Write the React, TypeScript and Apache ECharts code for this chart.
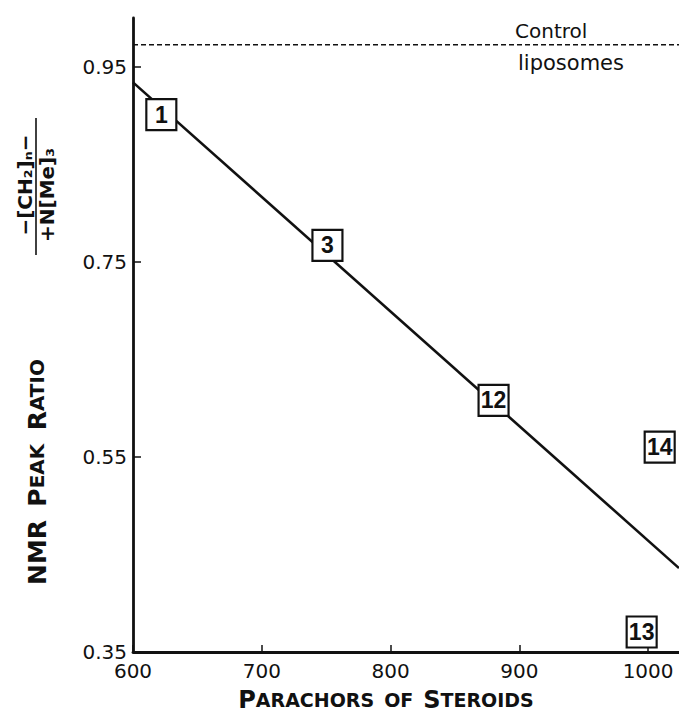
import React, { useEffect, useRef } from "react";
import * as echarts from "echarts";

// ---- data ----
const xRange = [600, 1024];
const yRange = [0.35, 1.0];
const fitLine = [
  [600, 0.934],
  [1024, 0.436],
];
const controlLevel = 0.9726;
const steroidIds = ["1", "3", "12", "14", "13"];
const steroidParachor = [622, 751, 880, 1009, 995];
const steroidRatio = [0.901, 0.767, 0.608, 0.56, 0.3705];

const INK = "#111111";
const NUM_FONT = "DejaVu Sans";

export default function App() {
  const ref = useRef<HTMLDivElement>(null);

  useEffect(() => {
    if (!ref.current) return;
    const chart = echarts.init(ref.current, undefined, { renderer: "svg" });

    const titleRich = {
      b: { fontFamily: NUM_FONT, fontWeight: "bold", fontSize: 24, fill: INK },
      s: { fontFamily: NUM_FONT, fontWeight: "bold", fontSize: 19, fill: INK },
    };
    const yTitleRich = {
      b: { fontFamily: NUM_FONT, fontWeight: "bold", fontSize: 25, fill: INK },
      s: { fontFamily: NUM_FONT, fontWeight: "bold", fontSize: 20, fill: INK },
    };

    const option: any = {
      animation: false,
      backgroundColor: "#ffffff",
      grid: { left: 133, top: 18, right: 0, bottom: 66 },
      xAxis: {
        type: "value",
        min: xRange[0],
        max: xRange[1],
        interval: 100,
        splitLine: { show: false },
        axisLine: { show: true, lineStyle: { color: INK, width: 2.8 } },
        axisTick: { show: true, inside: true, length: 7, lineStyle: { color: INK, width: 1.5 } },
        axisLabel: {
          showMaxLabel: false,
          margin: 9,
          color: INK,
          fontFamily: NUM_FONT,
          fontSize: 20,
          formatter: (v: number) => (v > 1001 ? "" : String(Math.round(v))),
        },
      },
      yAxis: {
        type: "value",
        min: yRange[0],
        max: yRange[1],
        interval: 0.2,
        splitLine: { show: false },
        axisLine: { show: true, lineStyle: { color: INK, width: 2.8 } },
        axisTick: { show: true, inside: true, length: 8, lineStyle: { color: INK, width: 1.5 } },
        axisLabel: {
          showMaxLabel: false,
          margin: 6,
          color: INK,
          fontFamily: NUM_FONT,
          fontSize: 20,
          formatter: (v: number) => (v > 0.97 ? "" : v.toFixed(2)),
        },
      },
      series: [
        {
          type: "line",
          data: fitLine,
          symbol: "none",
          lineStyle: { color: INK, width: 2.6 },
          z: 2,
        },
        {
          type: "line",
          data: [
            [xRange[0], controlLevel],
            [xRange[1], controlLevel],
          ],
          symbol: "none",
          lineStyle: { color: INK, width: 1.6, type: [5, 3] },
          z: 2,
        },
        {
          type: "scatter",
          data: steroidParachor.map((x, i) => ({
            value: [x, steroidRatio[i]],
            name: steroidIds[i],
          })),
          symbol: "rect",
          symbolSize: [30, 31],
          itemStyle: { color: "#ffffff", borderColor: INK, borderWidth: 2.2, opacity: 1 },
          label: {
            show: true,
            position: "inside",
            formatter: "{b}",
            color: INK,
            fontFamily: "Liberation Sans",
            fontWeight: "bold",
            fontSize: 23,
          },
          z: 5,
        },
      ],
      graphic: [
        {
          type: "text",
          x: 515,
          y: 31,
          style: {
            text: "Control",
            fontFamily: NUM_FONT,
            fontSize: 20,
            fill: INK,
            textAlign: "left",
            textVerticalAlign: "middle",
          },
        },
        {
          type: "text",
          x: 518,
          y: 63,
          style: {
            text: "liposomes",
            fontFamily: NUM_FONT,
            fontSize: 21,
            fill: INK,
            textAlign: "left",
            textVerticalAlign: "middle",
          },
        },
        {
          type: "text",
          x: 386,
          y: 700,
          style: {
            text: "{b|P}{s|ARACHORS}   {s|OF}   {b|S}{s|TEROIDS}",
            textAlign: "center",
            textVerticalAlign: "middle",
            fill: INK,
            rich: titleRich,
          },
        },
        {
          type: "text",
          x: 37,
          y: 585,
          rotation: Math.PI / 2,
          style: {
            text: "{b|NMR}    {b|P}{s|EAK}    {b|R}{s|ATIO}",
            textAlign: "left",
            textVerticalAlign: "middle",
            fill: INK,
            rich: yTitleRich,
          },
        },
        {
          type: "text",
          x: 25,
          y: 185,
          rotation: Math.PI / 2,
          style: {
            text: "−[CH₂]ₙ−",
            fontFamily: NUM_FONT,
            fontWeight: "bold",
            fontSize: 20,
            fill: INK,
            textAlign: "center",
            textVerticalAlign: "middle",
          },
        },
        {
          type: "line",
          shape: { x1: 36, y1: 118, x2: 36, y2: 255 },
          style: { stroke: INK, lineWidth: 1.6 },
        },
        {
          type: "text",
          x: 47,
          y: 195,
          rotation: Math.PI / 2,
          style: {
            text: "+N[Me]₃",
            fontFamily: NUM_FONT,
            fontWeight: "bold",
            fontSize: 20,
            fill: INK,
            textAlign: "center",
            textVerticalAlign: "middle",
          },
        },
      ],
    };

    chart.setOption(option);
    return () => chart.dispose();
  }, []);

  return (
    <div
      ref={ref}
      style={{ position: "absolute", left: 0, top: 0, width: 679, height: 718, background: "#fff" }}
    />
  );
}
